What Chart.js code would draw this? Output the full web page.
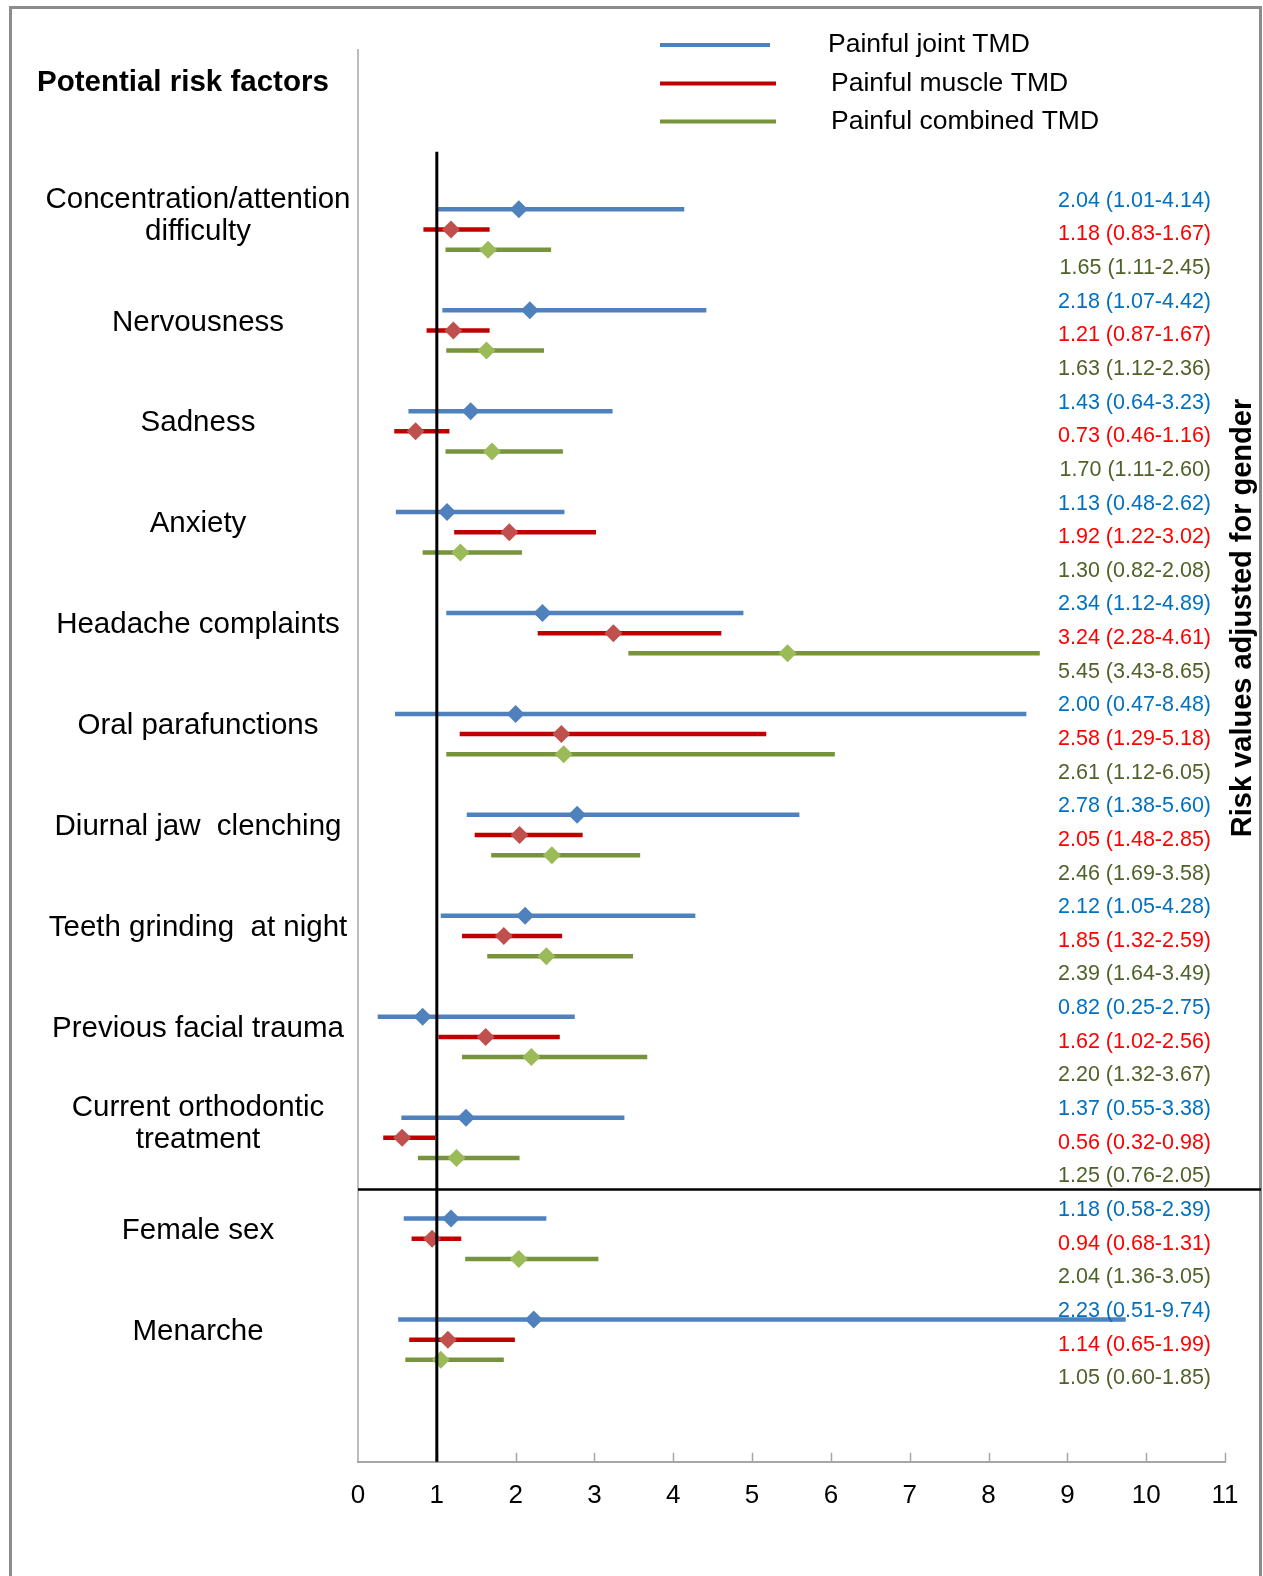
<!DOCTYPE html>
<html>
<head>
<meta charset="utf-8">
<script src="https://cdn.jsdelivr.net/npm/chart.js@4/dist/chart.umd.min.js"></script>
<style>
  html, body { margin: 0; padding: 0; background: #fff; }
  #wrap { width: 1263px; height: 1576px; }
</style>
</head>
<body>
<div id="wrap"><canvas id="c" width="1263" height="1576"></canvas></div>
<script>
// ---------- data ----------
const categories = [
  ["Concentration/attention", "difficulty"],
  "Nervousness",
  "Sadness",
  "Anxiety",
  "Headache complaints",
  "Oral parafunctions",
  "Diurnal jaw  clenching",
  "Teeth grinding  at night",
  "Previous facial trauma",
  ["Current orthodontic", "treatment"],
  "Female sex",
  "Menarche"
];
const seriesNames = ["Painful joint TMD", "Painful muscle TMD", "Painful combined TMD"];

const jointOR = [2.04, 2.18, 1.43, 1.13, 2.34, 2.00, 2.78, 2.12, 0.82, 1.37, 1.18, 2.23];
const jointLo = [1.01, 1.07, 0.64, 0.48, 1.12, 0.47, 1.38, 1.05, 0.25, 0.55, 0.58, 0.51];
const jointHi = [4.14, 4.42, 3.23, 2.62, 4.89, 8.48, 5.60, 4.28, 2.75, 3.38, 2.39, 9.74];

const muscleOR = [1.18, 1.21, 0.73, 1.92, 3.24, 2.58, 2.05, 1.85, 1.62, 0.56, 0.94, 1.14];
const muscleLo = [0.83, 0.87, 0.46, 1.22, 2.28, 1.29, 1.48, 1.32, 1.02, 0.32, 0.68, 0.65];
const muscleHi = [1.67, 1.67, 1.16, 3.02, 4.61, 5.18, 2.85, 2.59, 2.56, 0.98, 1.31, 1.99];

const combOR = [1.65, 1.63, 1.70, 1.30, 5.45, 2.61, 2.46, 2.39, 2.20, 1.25, 2.04, 1.05];
const combLo = [1.11, 1.12, 1.11, 0.82, 3.43, 1.12, 1.69, 1.64, 1.32, 0.76, 1.36, 0.60];
const combHi = [2.45, 2.36, 2.60, 2.08, 8.65, 6.05, 3.58, 3.49, 3.67, 2.05, 3.05, 1.85];

const xTicks = [0, 1, 2, 3, 4, 5, 6, 7, 8, 9, 10, 11];
const headerTitle = "Potential risk factors";
const sideTitle = "Risk values adjusted for gender";
const referenceValue = 1;

// ---------- styles ----------
const lineColors = ["#4F81BD", "#C00000", "#77933C"];
const markerColors = ["#4F81BD", "#C0504D", "#9BBB59"];
const textColors = ["#0070C0", "#FF0000", "#4F6228"];
const GROUP_STEP = 5;   // y-units between factor groups
const seriesData = [
  { or: jointOR, lo: jointLo, hi: jointHi },
  { or: muscleOR, lo: muscleLo, hi: muscleHi },
  { or: combOR, lo: combLo, hi: combHi }
];
const rowY = (g, s) => g * GROUP_STEP + s;

const datasets = [];
seriesData.forEach((sd, s) => {
  datasets.push({
    label: seriesNames[s] + " OR",
    data: sd.or.map((v, g) => ({ x: v, y: rowY(g, s) })),
    showLine: false,
    pointStyle: "rectRot",
    pointRadius: 9,
    pointHoverRadius: 9,
    pointBackgroundColor: markerColors[s],
    pointBorderColor: markerColors[s],
    pointBorderWidth: 0,
    order: 0
  });
});
seriesData.forEach((sd, s) => {
  const pts = [];
  sd.lo.forEach((lo, g) => {
    pts.push({ x: lo, y: rowY(g, s) });
    pts.push({ x: sd.hi[g], y: rowY(g, s) });
    pts.push({ x: sd.hi[g], y: null });
  });
  datasets.push({
    label: seriesNames[s],
    data: pts,
    borderColor: lineColors[s],
    borderWidth: 4.5,
    borderCapStyle: "butt",
    pointRadius: 0,
    spanGaps: false,
    showLine: true,
    order: 1
  });
});

const fmt = v => v.toFixed(2);
const SANS = "'Liberation Sans', Arial, sans-serif";
const NARROW = "'Liberation Sans Narrow', 'Liberation Sans', Arial, sans-serif";

const decor = {
  id: "decor",
  beforeDraw(chart) {
    const ctx = chart.ctx;
    const ca = chart.chartArea;
    ctx.save();
    // figure frame
    ctx.strokeStyle = "#8C8C8C";
    ctx.lineWidth = 3;
    ctx.strokeRect(10.5, 7.5, 1250, 1620);
    // left axis line
    ctx.strokeStyle = "#A6A6A6";
    ctx.lineWidth = 1.5;
    ctx.beginPath();
    ctx.moveTo(ca.left, ca.top);
    ctx.lineTo(ca.left, ca.bottom);
    ctx.stroke();
    // inward ticks on x axis
    const xs = chart.scales.x;
    ctx.lineWidth = 1.5;
    xTicks.forEach(t => {
      if (t === 0) return;
      const px = Math.round(xs.getPixelForValue(t)) + 0.5;
      ctx.beginPath();
      ctx.moveTo(px, ca.bottom);
      ctx.lineTo(px, ca.bottom - 9);
      ctx.stroke();
    });
    ctx.restore();
  },
  afterDatasetsDraw(chart) {
    const ctx = chart.ctx;
    const ca = chart.chartArea;
    const xs = chart.scales.x, ys = chart.scales.y;
    ctx.save();
    // reference line at OR = 1
    const rx = xs.getPixelForValue(referenceValue);
    ctx.strokeStyle = "#000";
    ctx.lineWidth = 3;
    ctx.beginPath();
    ctx.moveTo(rx, ys.getPixelForValue(-2.85));
    ctx.lineTo(rx, ca.bottom);
    ctx.stroke();
    // separator between psychosocial factors and sex-related factors
    const sepY = Math.round(ys.getPixelForValue(9 * GROUP_STEP + 3.5)) + 1.5;
    ctx.lineWidth = 2.5;
    ctx.beginPath();
    ctx.moveTo(ca.left, sepY);
    ctx.lineTo(1261, sepY);
    ctx.stroke();

    // header
    ctx.fillStyle = "#000";
    ctx.textBaseline = "middle";
    ctx.textAlign = "left";
    ctx.font = "bold 29.5px " + SANS;
    ctx.fillText(headerTitle, 37, 83);

    // category labels
    ctx.font = "29.5px " + SANS;
    ctx.textAlign = "center";
    categories.forEach((c, g) => {
      const lines = Array.isArray(c) ? c : [c];
      const cy = ys.getPixelForValue(rowY(g, 1)) - (lines.length > 1 ? 14 : 8);
      const lh = 32;
      lines.forEach((ln, i) => {
        ctx.fillText(ln, 198, cy + (i - (lines.length - 1) / 2) * lh);
      });
    });

    // value labels on the right
    ctx.textAlign = "right";
    ctx.font = "21.5px " + NARROW;
    seriesData.forEach((sd, s) => {
      ctx.fillStyle = textColors[s];
      sd.or.forEach((v, g) => {
        const y = ys.getPixelForValue(rowY(g, 1)) + 5 + (s - 1) * 33.6;
        ctx.fillText(fmt(v) + " (" + fmt(sd.lo[g]) + "-" + fmt(sd.hi[g]) + ")", 1211, y);
      });
    });

    // legend
    ctx.textAlign = "left";
    ctx.font = "26.5px " + SANS;
    const legY = [45, 83.5, 121.5];
    const legEnd = [770, 776, 776];
    const legText = [828, 831, 831];
    seriesNames.forEach((n, s) => {
      ctx.strokeStyle = lineColors[s];
      ctx.lineWidth = 4;
      ctx.beginPath();
      ctx.moveTo(660, legY[s]);
      ctx.lineTo(legEnd[s], legY[s]);
      ctx.stroke();
      ctx.fillStyle = "#000";
      ctx.fillText(n, legText[s], legY[s]);
    });

    // side title
    ctx.save();
    ctx.translate(1243, 618);
    ctx.rotate(-Math.PI / 2);
    ctx.textAlign = "center";
    ctx.font = "bold 29px " + SANS;
    ctx.fillStyle = "#000";
    ctx.fillText(sideTitle, 0, 0);
    ctx.restore();

    ctx.restore();
  }
};

new Chart(document.getElementById("c"), {
  type: "line",
  data: { datasets },
  options: {
    responsive: false,
    animation: false,
    devicePixelRatio: 1,
    layout: { padding: { left: 358, right: 38, top: 49, bottom: 47 } },
    plugins: { legend: { display: false }, tooltip: { enabled: false } },
    scales: {
      x: {
        type: "linear",
        min: 0,
        max: 11,
        afterBuildTicks: axis => { axis.ticks = xTicks.map(v => ({ value: v })); },
        ticks: {
          autoSkip: false,
          padding: 18,
          color: "#000",
          font: { size: 26, family: SANS },
          maxRotation: 0
        },
        grid: { drawOnChartArea: false, drawTicks: false },
        border: { color: "#A6A6A6", width: 2 }
      },
      y: {
        type: "linear",
        min: -7.94,
        max: 62.05,
        reverse: true,
        display: false
      }
    }
  },
  plugins: [decor]
});
</script>
</body>
</html>
